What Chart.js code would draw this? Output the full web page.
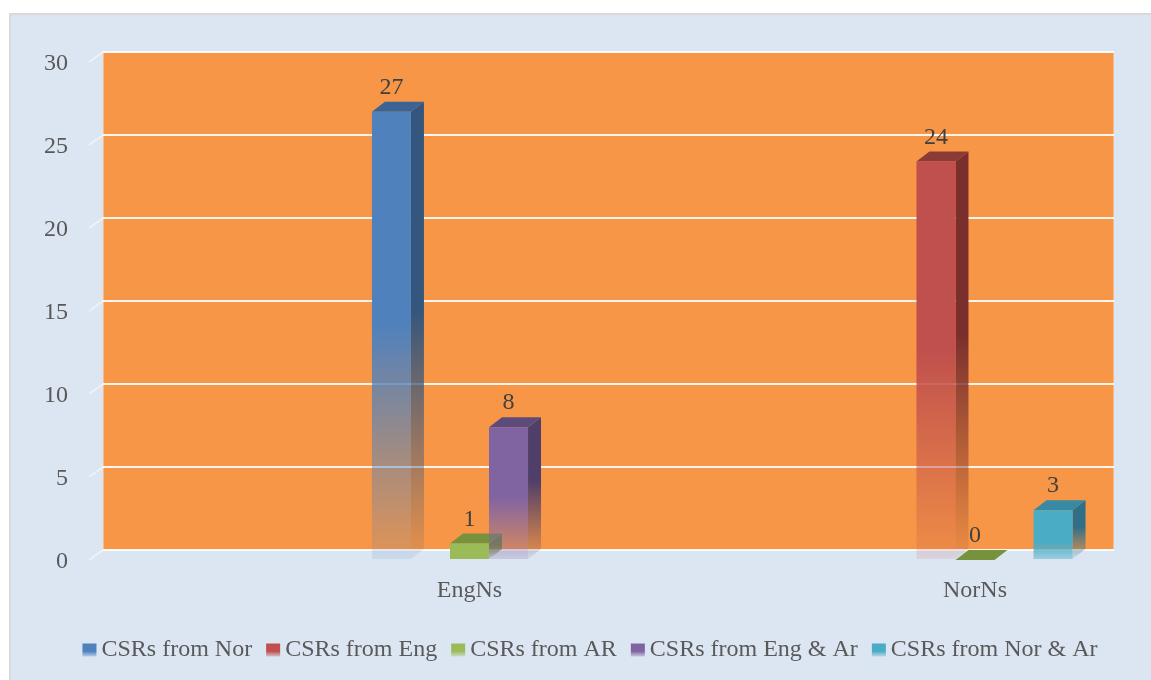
<!DOCTYPE html>
<html>
<head>
<meta charset="utf-8">
<script src="https://cdn.jsdelivr.net/npm/chart.js@4/dist/chart.umd.min.js"></script>
<style>
  body { margin: 0; background: #fff; }
  #panel { position: absolute; left: 9px; top: 13px; width: 1142px; height: 667px;
           background: #dce6f2; border-left: 2px solid #d9d9d9; border-top: 2px solid #d9d9d9; }
  #wrap { position: absolute; left: 0; top: 0; width: 1151px; height: 680px; }
</style>
</head>
<body>
<div id="panel"></div>
<div id="wrap"><canvas id="csrChart"></canvas></div>
<script>
var categories = ['EngNs', 'NorNs'];
var seriesNames = ['CSRs from Nor', 'CSRs from Eng', 'CSRs from AR', 'CSRs from Eng & Ar', 'CSRs from Nor & Ar'];
var fromNor = [27, null];
var fromEng = [null, 24];
var fromAR = [1, 0];
var fromEngAr = [8, null];
var fromNorAr = [null, 3];
var yTicks = [0, 5, 10, 15, 20, 25, 30];

var frontColors = ['#4f81bd', '#c0504d', '#9bbb59', '#8064a2', '#4bacc6'];
var topColors = ['#3b6394', '#8c3a38', '#76923c', '#5f4b7a', '#378aa2'];
var sideColors = ['#34557d', '#7b2f2d', '#6a8636', '#503f68', '#2f7088'];

// 3D depth offset
var DX = 13, DY = 10;
var font = 'Liberation Serif';

function hexA(hex, a) {
    var n = parseInt(hex.slice(1), 16);
    return 'rgba(' + (n >> 16) + ',' + ((n >> 8) & 255) + ',' + (n & 255) + ',' + a + ')';
}

function fade(c, color, top, bottom) {
    var g = c.createLinearGradient(0, top, 0, bottom);
    g.addColorStop(0, hexA(color, 1));
    g.addColorStop(0.45, hexA(color, 1));
    g.addColorStop(1, hexA(color, 0.08));
    return g;
}

function frontFill(i) {
    return function (ctx) {
        var chart = ctx.chart;
        if (!chart.chartArea || !ctx.raw || ctx.raw.y == null) return frontColors[i];
        var y = chart.scales.y;
        var top = y.getPixelForValue(ctx.raw.y) + DY;
        var bot = y.getPixelForValue(0) + DY;
        if (bot - top < 1) return frontColors[i];
        return fade(chart.ctx, frontColors[i], top, bot);
    };
}

var allSeries = [fromNor, fromEng, fromAR, fromEngAr, fromNorAr];
var datasets = allSeries.map(function (vals, i) {
    return {
        label: seriesNames[i],
        data: vals.map(function (v, k) { return { x: k, y: v }; }),
        backgroundColor: frontFill(i),
        borderWidth: 0
    };
});

var depthPlugin = {
    id: 'depth',
    beforeDraw: function (chart) {
        var a = chart.chartArea, c = chart.ctx;
        c.save();
        c.fillStyle = '#f79646';
        c.fillRect(a.left, a.top, a.right - a.left, a.bottom - a.top);
        c.strokeStyle = 'rgba(255,255,255,0.35)';
        c.lineWidth = 1;
        c.strokeRect(a.left + 0.5, a.top + 0.5, a.right - a.left - 1, a.bottom - a.top - 1);
        // slanted tick marks on the side wall
        c.strokeStyle = 'rgba(242,242,242,0.9)';
        c.lineWidth = 2;
        yTicks.forEach(function (t) {
            var py = chart.scales.y.getPixelForValue(t);
            c.beginPath();
            c.moveTo(a.left, py);
            c.lineTo(a.left - DX - 1, py + DY);
            c.stroke();
        });
        c.restore();
    },
    beforeDatasetsDraw: function (chart) {
        var c = chart.ctx;
        c.save();
        chart.data.datasets.forEach(function (ds, i) {
            var meta = chart.getDatasetMeta(i);
            meta.data.forEach(function (bar, k) {
                if (ds.data[k].y == null) return;
                var xl = bar.x - bar.width / 2, xr = bar.x + bar.width / 2;
                var yt = bar.y, yb = bar.base;
                // side face
                if (yb - yt > 1) {
                    c.fillStyle = fade(c, sideColors[i], yt, yb + DY);
                    c.beginPath();
                    c.moveTo(xr, yt + DY);
                    c.lineTo(xr + DX, yt);
                    c.lineTo(xr + DX, yb);
                    c.lineTo(xr, yb + DY);
                    c.closePath();
                    c.fill();
                }
                // top face
                c.fillStyle = topColors[i];
                c.beginPath();
                c.moveTo(xl, yt + DY);
                c.lineTo(xl + DX, yt);
                c.lineTo(xr + DX, yt);
                c.lineTo(xr, yt + DY);
                c.closePath();
                c.fill();
            });
        });
        c.restore();
        c.save();
        c.translate(0, DY);
    },
    afterDatasetsDraw: function (chart) {
        var c = chart.ctx;
        c.restore();
        c.save();
        c.font = '24px "' + font + '"';
        c.fillStyle = '#404040';
        c.textAlign = 'center';
        c.textBaseline = 'middle';
        chart.data.datasets.forEach(function (ds, i) {
            chart.getDatasetMeta(i).data.forEach(function (bar, k) {
                var v = ds.data[k].y;
                if (v == null) return;
                c.fillText(String(v), bar.x, bar.y - 14);
            });
        });
        c.restore();
    },
    afterDraw: function (chart) {
        // legend swatches, drawn closer to the text than the default
        var lg = chart.legend, c = chart.ctx;
        if (!lg || !lg.legendHitBoxes) return;
        c.save();
        lg.legendHitBoxes.forEach(function (hb, i) {
            var by = hb.top + (hb.height - 13) / 2;
            var g = c.createLinearGradient(0, by, 0, by + 13);
            g.addColorStop(0, hexA(frontColors[i], 1));
            g.addColorStop(0.6, hexA(frontColors[i], 1));
            g.addColorStop(1, hexA(frontColors[i], 0.25));
            c.fillStyle = g;
            c.fillRect(hb.left, by, 14, 13);
        });
        c.restore();
    }
};

var ctx = document.getElementById('csrChart').getContext('2d');

var csrChart = new Chart(ctx, {
    type: 'bar',
    data: { datasets: datasets },
    options: {
        responsive: true,
        maintainAspectRatio: false,
        animation: false,
        categoryPercentage: 0.386,
        barPercentage: 1.0,
        layout: { padding: { left: 29, right: 0, top: 52, bottom: 8 } },
        scales: {
            x: {
                type: 'linear',
                offset: false,
                min: -0.725,
                max: 1.275,
                afterBuildTicks: function (scale) {
                    scale.ticks = categories.map(function (c, i) { return { value: i }; });
                },
                afterFit: function (scale) {
                    var lg = scale.chart.legend ? scale.chart.legend.height : 0;
                    scale.height = scale.chart.height - 550 - lg - 8;
                },
                grid: { display: false, drawTicks: false },
                border: { display: false },
                ticks: {
                    padding: 26,
                    color: '#595959',
                    font: { family: font, size: 24 },
                    callback: function (v) { return categories[v]; }
                }
            },
            y: {
                min: 0,
                max: 30,
                afterFit: function (scale) { scale.width = 74; },
                grid: { color: 'rgba(255,255,255,0.9)', lineWidth: 2, drawTicks: false },
                border: { display: false },
                ticks: {
                    stepSize: 5,
                    padding: 35,
                    labelOffset: DY + 2,
                    color: '#595959',
                    font: { family: font, size: 24 }
                }
            },
            yRight: {
                position: 'right',
                afterFit: function (scale) { scale.width = 37; },
                grid: { display: false, drawTicks: false },
                border: { display: false },
                ticks: { display: false }
            }
        },
        plugins: {
            tooltip: { enabled: false },
            legend: {
                position: 'bottom',
                labels: {
                    boxWidth: 7,
                    boxHeight: 13,
                    padding: 14,
                    color: '#595959',
                    font: { family: font, size: 24 },
                    generateLabels: function (chart) {
                        return chart.data.datasets.map(function (ds, i) {
                            return {
                                text: ds.label,
                                fillStyle: 'rgba(0,0,0,0)',
                                strokeStyle: 'rgba(0,0,0,0)',
                                lineWidth: 0,
                                fontColor: '#595959',
                                datasetIndex: i
                            };
                        });
                    }
                }
            }
        }
    },
    plugins: [depthPlugin]
});
</script>
</body>
</html>
